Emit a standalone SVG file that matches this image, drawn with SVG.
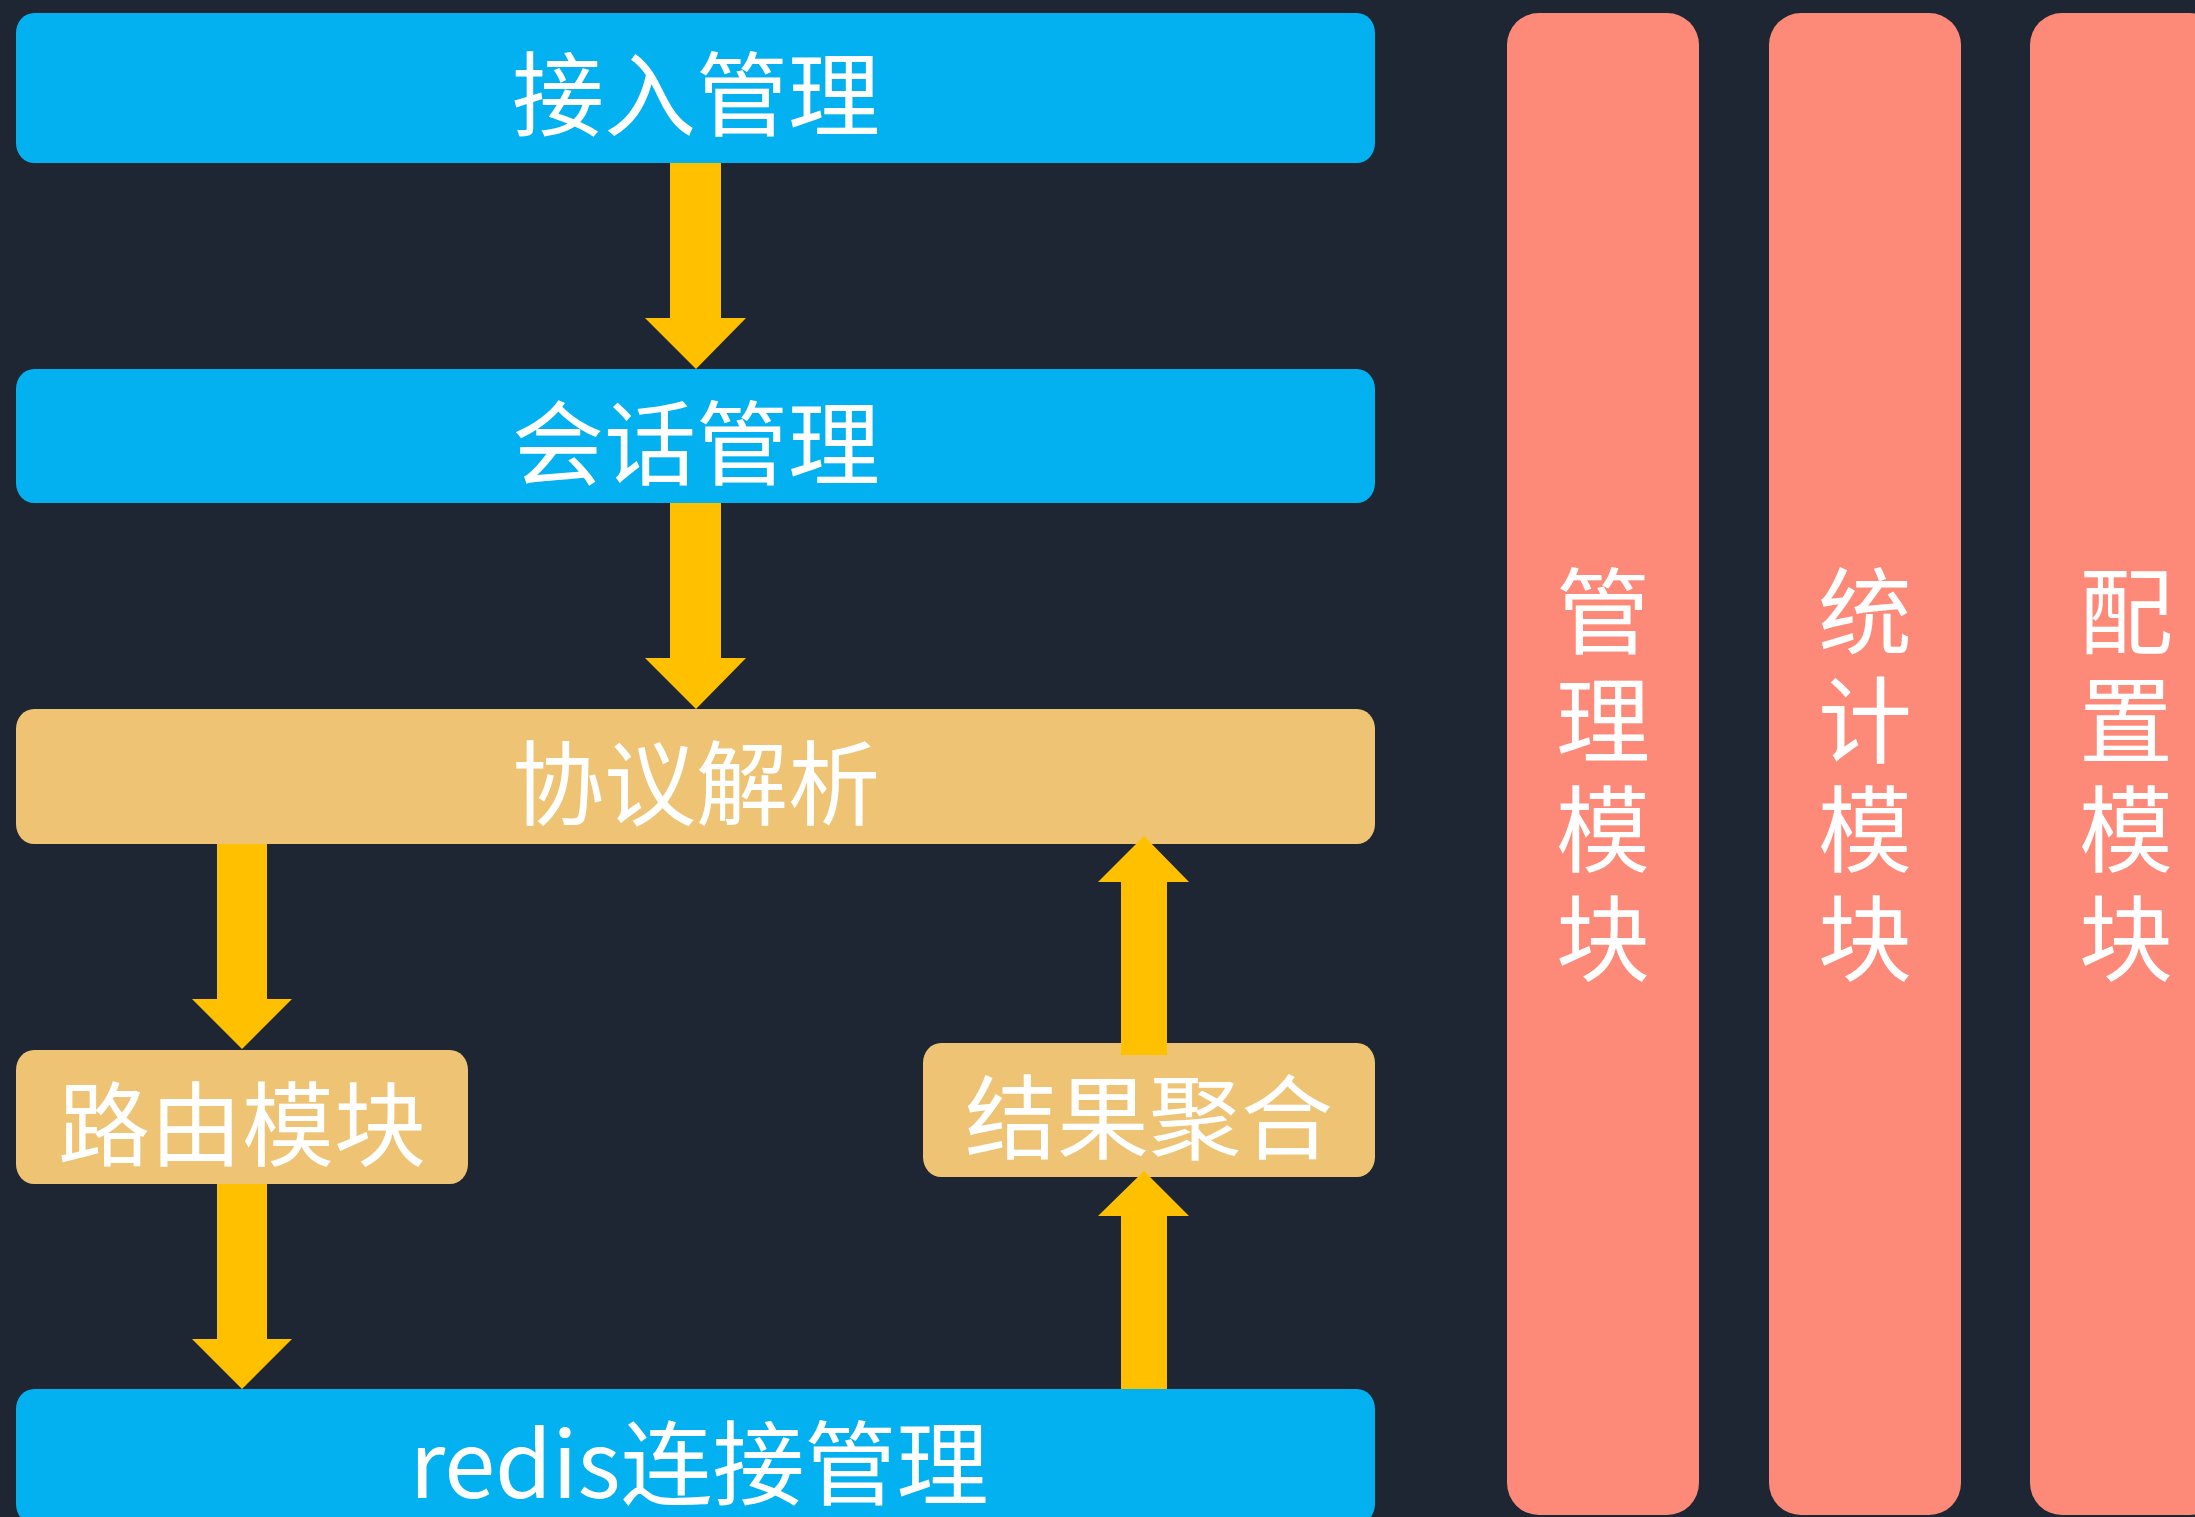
<svg xmlns="http://www.w3.org/2000/svg" width="2195" height="1517" viewBox="0 0 2195 1517">
<style>
.blue{fill:#03B0F0}
.tan{fill:#EEC374}
.salmon{fill:#FD8A78}
.arrow{fill:#FFC000}
.lbl{font-family:"Noto Sans CJK SC","Microsoft YaHei",sans-serif;font-size:92px;fill:#FFFFFF;text-anchor:middle;dominant-baseline:central}
.vlbl{font-family:"Noto Sans CJK SC",sans-serif;font-size:94px;fill:#FFFFFF;text-anchor:middle;dominant-baseline:central}
</style>
<rect x="0" y="0" width="2195" height="1517" fill="#1E2633"/>
<g id="node-access">
<rect class="blue" x="16" y="13" width="1359" height="150" rx="18" ry="20"/>
<text class="lbl" x="696" y="88">接入管理</text>
</g>
<g id="node-session">
<rect class="blue" x="16" y="369" width="1359" height="134" rx="18" ry="20"/>
<text class="lbl" x="696" y="437">会话管理</text>
</g>
<g id="node-protocol">
<rect class="tan" x="16" y="709" width="1359" height="135" rx="18" ry="20"/>
<text class="lbl" x="696" y="777">协议解析</text>
</g>
<g id="node-route">
<rect class="tan" x="16" y="1050" width="452" height="134" rx="18" ry="20"/>
<text class="lbl" x="242" y="1118">路由模块</text>
</g>
<g id="node-result">
<rect class="tan" x="923" y="1043" width="452" height="134" rx="18" ry="20"/>
<text class="lbl" x="1149" y="1111">结果聚合</text>
</g>
<g id="node-redis">
<rect class="blue" x="16" y="1389" width="1359" height="135" rx="18" ry="20"/>
<text class="lbl" x="699" y="1457">redis连接管理</text>
</g>
<g id="node-manage">
<rect class="salmon" x="1507" y="13" width="192" height="1502" rx="32" ry="32"/>
<text class="vlbl" x="1603" y="606">管<tspan x="1603" dy="109">理</tspan><tspan x="1603" dy="109">模</tspan><tspan x="1603" dy="109">块</tspan></text>
</g>
<g id="node-stats">
<rect class="salmon" x="1769" y="13" width="192" height="1502" rx="32" ry="32"/>
<text class="vlbl" x="1865" y="606">统<tspan x="1865" dy="109">计</tspan><tspan x="1865" dy="109">模</tspan><tspan x="1865" dy="109">块</tspan></text>
</g>
<g id="node-config">
<rect class="salmon" x="2030" y="13" width="192" height="1502" rx="32" ry="32"/>
<text class="vlbl" x="2126" y="606">配<tspan x="2126" dy="109">置</tspan><tspan x="2126" dy="109">模</tspan><tspan x="2126" dy="109">块</tspan></text>
</g>
<g id="connectors">
<polygon class="arrow" points="670,163 721,163 721,318 746,318 696,369 645,318 670,318"/>
<polygon class="arrow" points="670,503 721,503 721,658 746,658 696,709 645,658 670,658"/>
<polygon class="arrow" points="217,844 267,844 267,999 292,999 242,1049 192,999 217,999"/>
<polygon class="arrow" points="217,1184 267,1184 267,1339 292,1339 242,1389 192,1339 217,1339"/>
<polygon class="arrow" points="1121,1055 1167,1055 1167,882 1189,882 1144,836 1098,882 1121,882"/>
<polygon class="arrow" points="1121,1389 1167,1389 1167,1216 1189,1216 1144,1171 1098,1216 1121,1216"/>
</g>
</svg>
